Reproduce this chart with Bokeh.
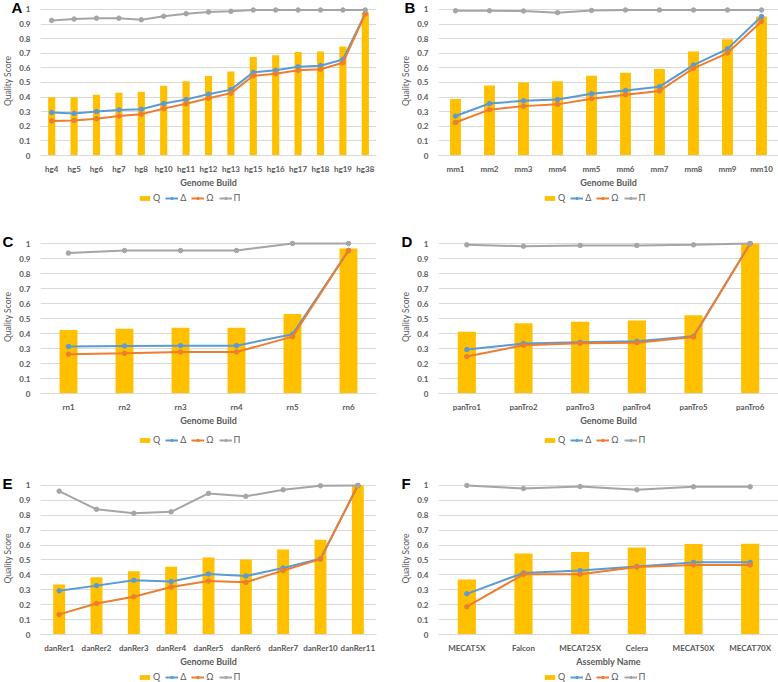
from bokeh.plotting import figure
from bokeh.models import (FactorRange, Range1d, FixedTicker, NumeralTickFormatter,
                          Legend, LegendItem)
from bokeh.layouts import column, row
from bokeh.embed import file_html
from bokeh.resources import INLINE

# ---------------- data ----------------
a_cats = ["hg4", "hg5", "hg6", "hg7", "hg8", "hg10", "hg11", "hg12", "hg13",
          "hg15", "hg16", "hg17", "hg18", "hg19", "hg38"]
a_q = [0.398, 0.398, 0.416, 0.429, 0.436, 0.478, 0.509, 0.544, 0.575,
       0.675, 0.686, 0.708, 0.712, 0.746, 0.978]
a_d = [0.294, 0.288, 0.301, 0.312, 0.316, 0.356, 0.383, 0.420, 0.451,
       0.569, 0.584, 0.608, 0.615, 0.657, 0.973]
a_o = [0.237, 0.239, 0.252, 0.270, 0.283, 0.321, 0.354, 0.392, 0.427,
       0.546, 0.560, 0.584, 0.591, 0.635, 0.969]
a_p = [0.925, 0.934, 0.940, 0.940, 0.929, 0.953, 0.971, 0.982, 0.987,
       0.996, 0.996, 0.996, 0.996, 0.996, 0.996]

b_cats = ["mm1", "mm2", "mm3", "mm4", "mm5", "mm6", "mm7", "mm8", "mm9", "mm10"]
b_q = [0.387, 0.480, 0.500, 0.509, 0.546, 0.566, 0.593, 0.712, 0.796, 0.951]
b_d = [0.270, 0.356, 0.374, 0.383, 0.423, 0.445, 0.471, 0.619, 0.730, 0.951]
b_o = [0.226, 0.314, 0.338, 0.350, 0.389, 0.416, 0.442, 0.597, 0.701, 0.918]
b_p = [0.991, 0.991, 0.989, 0.978, 0.993, 0.996, 0.996, 0.996, 0.996, 0.996]

c_cats = ["rn1", "rn2", "rn3", "rn4", "rn5", "rn6"]
c_q = [0.424, 0.432, 0.439, 0.439, 0.530, 0.967]
c_d = [0.313, 0.317, 0.319, 0.319, 0.395, 0.953]
c_o = [0.262, 0.268, 0.277, 0.277, 0.379, 0.953]
c_p = [0.936, 0.953, 0.953, 0.953, 1.000, 1.000]

d_cats = ["panTro1", "panTro2", "panTro3", "panTro4", "panTro5", "panTro6"]
d_q = [0.412, 0.468, 0.479, 0.486, 0.521, 1.000]
d_d = [0.293, 0.333, 0.341, 0.348, 0.381, 1.000]
d_o = [0.246, 0.322, 0.335, 0.339, 0.377, 1.000]
d_p = [0.991, 0.982, 0.987, 0.987, 0.991, 1.000]

e_cats = ["danRer1", "danRer2", "danRer3", "danRer4", "danRer5", "danRer6",
          "danRer7", "danRer10", "danRer11"]
e_q = [0.335, 0.384, 0.424, 0.455, 0.517, 0.503, 0.570, 0.636, 1.000]
e_d = [0.293, 0.328, 0.364, 0.355, 0.406, 0.392, 0.446, 0.508, 1.000]
e_o = [0.135, 0.208, 0.253, 0.319, 0.359, 0.350, 0.430, 0.506, 1.000]
e_p = [0.962, 0.840, 0.814, 0.823, 0.947, 0.927, 0.971, 0.998, 1.000]

f_cats = ["MECAT5X", "Falcon", "MECAT25X", "Celera", "MECAT50X", "MECAT70X"]
f_q = [0.369, 0.544, 0.553, 0.584, 0.607, 0.609]
f_d = [0.273, 0.413, 0.429, 0.456, 0.484, 0.484]
f_o = [0.187, 0.404, 0.404, 0.453, 0.467, 0.467]
f_p = [1.000, 0.980, 0.993, 0.971, 0.991, 0.991]

y_ticks = [0, 0.1, 0.2, 0.3, 0.4, 0.5, 0.6, 0.7, 0.8, 0.9, 1.0]
series_names = ["Q", "Δ", "Ω", "Π"]

# ---------------- style ----------------
BAR = "#FFC000"
COLS = ["#5B9BD5", "#ED7D31", "#A5A5A5"]
TXT = "#595959"
GRID = "#D9D9D9"
FONT = "Lato"
FIG_W = 389
BOTTOM = 34


def draw_series(fig, cats, q, d, o, pi):
    rb = fig.vbar(x=cats, top=q, width=0.32, fill_color=BAR, line_color=None)
    out = [[rb]]
    for vals, c in zip([d, o, pi], COLS):
        rl = fig.line(x=cats, y=vals, line_color=c, line_width=2)
        rs = fig.scatter(x=cats, y=vals, marker="circle", size=4.5,
                         fill_color=c, line_color=c)
        out.append([rl, rs])
    return out


def panel(letter, cats, q, d, o, pi, xlabel, col, top, frame_h,
          letter_off, leg_h, leg_y, leg_x):
    if col == 0:
        left, right = 34, 13
    else:
        left, right = 49, 0
    p = figure(x_range=FactorRange(factors=cats), y_range=Range1d(0, 1.02),
               width=FIG_W, height=top + frame_h + BOTTOM,
               min_border_left=left, min_border_right=right,
               min_border_top=top, min_border_bottom=BOTTOM,
               output_backend="svg", toolbar_location=None)
    p.outline_line_color = None
    p.xgrid.grid_line_color = None
    p.ygrid.grid_line_color = GRID
    p.ygrid.grid_line_width = 1

    # panel letter as a left-aligned title pushed into the left border
    p.title.text = letter
    p.title.align = "left"
    p.title.vertical_align = "bottom"
    p.title.offset = letter_off
    p.title.standoff = -18
    p.title.text_font = "Liberation Sans"
    p.title.text_font_style = "bold"
    p.title.text_font_size = "15px"
    p.title.text_color = "black"

    p.yaxis.ticker = FixedTicker(ticks=y_ticks)
    p.yaxis.formatter = NumeralTickFormatter(format="0.[0]")
    p.yaxis.axis_line_color = None
    p.yaxis.major_tick_line_color = None
    p.yaxis.minor_tick_line_color = None
    p.yaxis.major_label_text_font = FONT
    p.yaxis.major_label_text_font_style = "bold"
    p.yaxis.major_label_text_font_size = "8px"
    p.yaxis.major_label_text_color = TXT
    p.yaxis.major_label_standoff = 4
    p.yaxis.axis_label = "Quality Score"
    p.yaxis.axis_label_text_font = FONT
    p.yaxis.axis_label_text_font_style = "normal"
    p.yaxis.axis_label_text_font_size = "8.5px"
    p.yaxis.axis_label_text_color = TXT
    p.yaxis.axis_label_standoff = 3

    p.xaxis.axis_line_color = GRID
    p.xaxis.major_tick_line_color = None
    p.xaxis.minor_tick_line_color = None
    p.xaxis.major_label_text_font = FONT
    p.xaxis.major_label_text_font_style = "bold"
    p.xaxis.major_label_text_font_size = "8px"
    p.xaxis.major_label_text_color = TXT
    p.xaxis.major_label_standoff = 2
    p.xaxis.axis_label = xlabel
    p.xaxis.axis_label_text_font = FONT
    p.xaxis.axis_label_text_font_style = "bold"
    p.xaxis.axis_label_text_font_size = "9px"
    p.xaxis.axis_label_text_color = TXT
    p.xaxis.axis_label_standoff = 0

    draw_series(p, cats, q, d, o, pi)

    # legend strip below the chart: same series, drawn out of its view range,
    # so only the legend shows
    lf = figure(x_range=FactorRange(factors=cats), y_range=Range1d(5, 6),
                width=FIG_W, height=leg_h, min_border=0,
                x_axis_type=None, y_axis_type=None,
                output_backend="svg", toolbar_location=None)
    lf.outline_line_color = None
    lf.xgrid.visible = False
    lf.ygrid.visible = False
    rends = draw_series(lf, cats, q, d, o, pi)
    items = [LegendItem(label=n, renderers=r) for n, r in zip(series_names, rends)]
    leg = Legend(items=items, orientation="horizontal", location=(leg_x, leg_y))
    leg.border_line_color = None
    leg.background_fill_alpha = 0
    leg.label_text_font = FONT
    leg.label_text_font_size = "9px"
    leg.label_text_color = TXT
    leg.glyph_width = 13
    leg.glyph_height = 6
    leg.label_standoff = 2
    leg.label_width = 6
    leg.label_height = 10
    leg.spacing = 5
    leg.padding = 1
    leg.margin = 0
    lf.add_layout(leg)

    return column(p, lf)


pa = panel("A", a_cats, a_q, a_d, a_o, a_p, "Genome Build", 0, 6, 150, -29, 38, 25, 98)
pb = panel("B", b_cats, b_q, b_d, b_o, b_p, "Genome Build", 1, 6, 150, -34, 38, 25, 105)
pc = panel("C", c_cats, c_q, c_d, c_o, c_p, "Genome Build", 0, 12, 154, -38, 24, 7, 98)
pd_ = panel("D", d_cats, d_q, d_d, d_o, d_p, "Genome Build", 1, 12, 154, -37, 24, 7, 105)
pe = panel("E", e_cats, e_q, e_d, e_o, e_p, "Genome Build", 0, 30, 153, -38, 13, 0, 98)
pf = panel("F", f_cats, f_q, f_d, f_o, f_p, "Assembly Name", 1, 30, 153, -37, 13, 0, 105)

layout = column(row(pa, pb), row(pc, pd_), row(pe, pf))

open("out.html", "w").write(file_html(layout, INLINE))
